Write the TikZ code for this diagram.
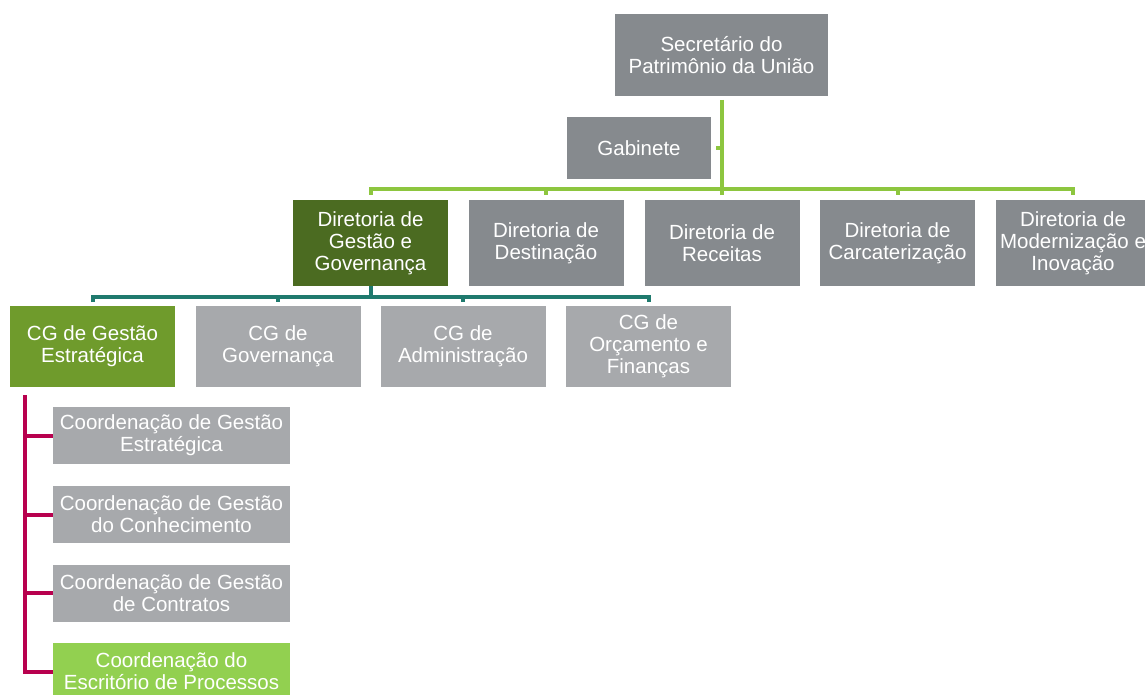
\documentclass[tikz,border=0pt]{standalone}
\usepackage{fontspec}
\setmainfont{Liberation Sans}
\definecolor{dgray}{HTML}{868A8E}
\definecolor{lgray}{HTML}{A7A9AC}
\definecolor{dgreen}{HTML}{4B6B21}
\definecolor{ogreen}{HTML}{6F9B2C}
\definecolor{lgreen}{HTML}{92D050}
\definecolor{gline}{HTML}{8DC63F}
\definecolor{tline}{HTML}{1F7A6E}
\definecolor{cline}{HTML}{B8004E}
\begin{document}
\begin{tikzpicture}[x=1pt,y=1pt,
  box/.style={inner sep=0pt, outer sep=0pt, align=center, text=white,
    font=\fontsize{20.5}{22}\selectfont},
  dirbox/.style={box, fill=dgray, minimum width=155, minimum height=86},
  cgbox/.style={box, fill=lgray, minimum width=165, minimum height=81},
  cobox/.style={box, fill=lgray, minimum width=237, minimum height=57},
  gl/.style={draw=gline, line width=4pt},
  tl/.style={draw=tline, line width=4pt},
  cl/.style={draw=cline, line width=4pt}]
\useasboundingbox[fill=white] (0,0) rectangle (1145,-695);

\node[box, fill=dgray, minimum width=213, minimum height=82] (sec) at (721.5,-55) {Secretário do\\Patrimônio da União};
\node[box, fill=dgray, minimum width=144, minimum height=62] (gab) at (639,-148) {Gabinete};

\node[dirbox, fill=dgreen] (dgg) at (370.5,-243) {Diretoria de\\Gestão e\\Governança};
\node[dirbox] (dde) at (546,-243) {Diretoria de\\Destinação};
\node[dirbox] (dre) at (722,-243) {Diretoria de\\Receitas};
\node[dirbox] (dca) at (897.5,-243) {Diretoria de\\Carcaterização};
\node[dirbox] (dmi) at (1073,-243) {Diretoria de\\Modernização e\\Inovação};

\node[cgbox, fill=ogreen] (cge) at (92.5,-346.5) {CG de Gestão\\Estratégica};
\node[cgbox] (cgg) at (278,-346.5) {CG de\\Governança};
\node[cgbox] (cga) at (463,-346.5) {CG de\\Administração};
\node[cgbox] (cgo) at (648.5,-346.5) {CG de\\Orçamento e\\Finanças};

\node[cobox] (c1) at (171.5,-435.5) {Coordenação de Gestão\\Estratégica};
\node[cobox] (c2) at (171.5,-514.5) {Coordenação de Gestão\\do Conhecimento};
\node[cobox] (c3) at (171.5,-593) {Coordenação de Gestão\\de Contratos};
\node[cobox, fill=lgreen] (c4) at (171.5,-671.5) {Coordenação do\\Escritório de Processos};

% green connectors
\coordinate (gbar) at (0,-189);
\draw[gl] ([yshift=-4]sec.south) -- (sec.south |- gbar);
\draw[gl] ([xshift=5]gab.east) -- (gab.east -| sec.south);
\draw[gl, line cap=butt] ([yshift=5]dgg.north) -- (dgg.north |- gbar) -- (dmi.north |- gbar) -- ([yshift=5]dmi.north);
\draw[gl] (dde.north |- gbar) -- ([yshift=5]dde.north);
\draw[gl] (dre.north |- gbar) -- ([yshift=5]dre.north);
\draw[gl] (dca.north |- gbar) -- ([yshift=5]dca.north);

% teal connectors
\coordinate (tbar) at (0,-297);
\draw[tl] (dgg.south) -- (dgg.south |- tbar);
\draw[tl] ([yshift=4]cge.north) -- (cge.north |- tbar) -- (cgo.north |- tbar) -- ([yshift=4]cgo.north);
\draw[tl] (cgg.north |- tbar) -- ([yshift=4]cgg.north);
\draw[tl] (cga.north |- tbar) -- ([yshift=4]cga.north);

% crimson connectors
\coordinate (cx) at (25,0);
\draw[cl] (cx |- 0,-395) -- (cx |- c4.west) -- (c4.west);
\draw[cl] (cx |- c1.west) -- (c1.west);
\draw[cl] (cx |- c2.west) -- (c2.west);
\draw[cl] (cx |- c3.west) -- (c3.west);
\end{tikzpicture}
\end{document}
